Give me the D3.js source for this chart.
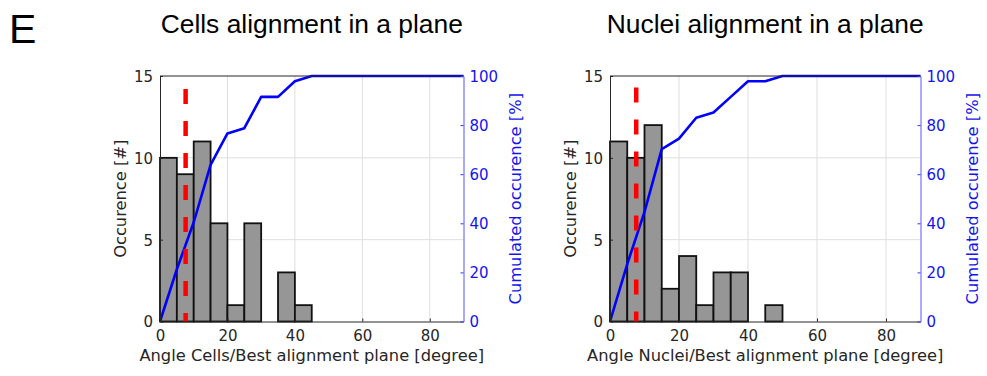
<!DOCTYPE html>
<html>
<head>
<meta charset="utf-8">
<script src="https://cdn.jsdelivr.net/npm/d3@7"></script>
<style>
  body { margin: 0; background: #fff; }
  svg { display: block; }
  .tick text { font-family: "DejaVu Sans", sans-serif; font-size: 15px; }
</style>
</head>
<body>
<div id="chart"></div>
<script>
// histogram bins of 5 degrees from 0 to 90
const binEdges = d3.range(0, 95, 5);
const cellsCounts = [10, 9, 11, 6, 1, 6, 0, 3, 1, 0, 0, 0, 0, 0, 0, 0, 0, 0];
const nucleiCounts = [11, 10, 12, 2, 4, 1, 3, 3, 0, 1, 0, 0, 0, 0, 0, 0, 0, 0];
const cellsMedian = 7.6;
const nucleiMedian = 7.6;
const cellsMedianTop = 14.2;
const nucleiMedianTop = 14.3;
const xTicks = [0, 20, 40, 60, 80];
const yLeftTicks = [0, 5, 10, 15];
const yRightTicks = [0, 20, 40, 60, 80, 100];

const panels = [
  { title: 'Cells alignment in a plane', xlabel: 'Angle Cells/Best alignment plane [degree]',
    counts: cellsCounts, median: cellsMedian, medianTop: cellsMedianTop, left: 160, right: 463.5 },
  { title: 'Nuclei alignment in a plane', xlabel: 'Angle Nuclei/Best alignment plane [degree]',
    counts: nucleiCounts, median: nucleiMedian, medianTop: nucleiMedianTop, left: 610, right: 920.5 }
];

const width = 987;
const height = 376;
const plotTop = 76;
const plotBottom = 321.5;
const axisColor = '#262626';
const blue = '#0000ff';
const labelSize = 16.3;

const svg = d3.select('#chart').append('svg')
    .attr('width', width)
    .attr('height', height);

svg.append('text')
    .attr('x', 9)
    .attr('y', 43)
    .attr('font-family', '"Liberation Sans", Arial, sans-serif')
    .attr('font-size', 41)
    .text('E');

panels.forEach(drawPanel);

function drawPanel(p) {
  const x = d3.scaleLinear().domain([0, 90]).range([p.left, p.right]);
  const y = d3.scaleLinear().domain([0, 15]).range([plotBottom, plotTop]);
  const y2 = d3.scaleLinear().domain([0, 100]).range([plotBottom, plotTop]);

  const g = svg.append('g');

  // title
  g.append('text')
      .attr('x', (p.left + p.right) / 2)
      .attr('y', 33)
      .attr('text-anchor', 'middle')
      .attr('font-family', '"Liberation Sans", Arial, sans-serif')
      .attr('font-size', 26.4)
      .attr('fill', '#000')
      .text(p.title);

  // grid
  g.selectAll('.vgrid')
    .data(xTicks.slice(1))
    .join('line')
      .attr('class', 'vgrid')
      .attr('x1', d => x(d)).attr('x2', d => x(d))
      .attr('y1', plotTop).attr('y2', plotBottom)
      .attr('stroke', '#dedede')
      .attr('stroke-width', 1);

  g.selectAll('.hgrid')
    .data(yLeftTicks.slice(1, -1))
    .join('line')
      .attr('class', 'hgrid')
      .attr('x1', p.left).attr('x2', p.right)
      .attr('y1', d => y(d)).attr('y2', d => y(d))
      .attr('stroke', '#dedede')
      .attr('stroke-width', 1);

  // bars
  const bins = p.counts.map((c, i) => ({ x0: binEdges[i], x1: binEdges[i + 1], count: c }))
    .filter(d => d.count > 0);

  g.selectAll('.bar')
    .data(bins)
    .join('rect')
      .attr('class', 'bar')
      .attr('x', d => x(d.x0))
      .attr('y', d => y(d.count))
      .attr('width', d => x(d.x1) - x(d.x0))
      .attr('height', d => y(0) - y(d.count))
      .attr('fill', '#969696')
      .attr('stroke', '#111')
      .attr('stroke-width', 1.8);

  // cumulated occurence in percent
  const total = d3.sum(p.counts);
  const cum = d3.cumsum(p.counts);
  const cumPoints = binEdges.map((e, i) => [e, i === 0 ? 0 : cum[i - 1] / total * 100]);

  g.append('path')
      .datum(cumPoints)
      .attr('fill', 'none')
      .attr('stroke', blue)
      .attr('stroke-width', 2.6)
      .attr('stroke-linejoin', 'round')
      .attr('d', d3.line().x(d => x(d[0])).y(d => y2(d[1])));

  // median line
  g.append('line')
      .attr('x1', x(p.median)).attr('x2', x(p.median))
      .attr('y1', y(p.medianTop)).attr('y2', y(0))
      .attr('stroke', '#ff0000')
      .attr('stroke-width', 4.5)
      .attr('stroke-dasharray', '15,17');

  // box top
  g.append('line')
      .attr('x1', p.left).attr('x2', p.right)
      .attr('y1', plotTop).attr('y2', plotTop)
      .attr('stroke', axisColor)
      .attr('stroke-width', 1);

  // axes
  const xAxis = g.append('g')
      .attr('transform', `translate(0,${plotBottom})`)
      .call(d3.axisBottom(x).tickValues(xTicks).tickSizeInner(-3).tickSizeOuter(0).tickPadding(9));
  xAxis.select('.domain').attr('stroke', axisColor);
  xAxis.selectAll('.tick line').attr('stroke', axisColor);
  xAxis.selectAll('.tick text').attr('fill', axisColor);

  const yAxis = g.append('g')
      .attr('transform', `translate(${p.left},0)`)
      .call(d3.axisLeft(y).tickValues(yLeftTicks).tickSizeInner(-3).tickSizeOuter(0).tickPadding(7));
  yAxis.select('.domain').attr('stroke', axisColor);
  yAxis.selectAll('.tick line').attr('stroke', axisColor);
  yAxis.selectAll('.tick text').attr('fill', axisColor).attr('dy', '0.36em');

  const yAxis2 = g.append('g')
      .attr('transform', `translate(${p.right},0)`)
      .call(d3.axisRight(y2).tickValues(yRightTicks).tickSizeInner(-3).tickSizeOuter(0).tickPadding(6));
  yAxis2.select('.domain').attr('stroke', '#5555ff');
  yAxis2.selectAll('.tick line').attr('stroke', '#3333ff');
  yAxis2.selectAll('.tick text').attr('fill', '#1414f0').attr('dy', '0.36em');

  // axis labels
  g.append('text')
      .attr('x', (p.left + p.right) / 2)
      .attr('y', 361)
      .attr('text-anchor', 'middle')
      .attr('font-family', '"DejaVu Sans", sans-serif')
      .attr('font-size', labelSize)
      .attr('fill', axisColor)
      .text(p.xlabel);

  g.append('text')
      .attr('transform', `translate(${p.left - 39.5},${(plotTop + plotBottom) / 2}) rotate(-90)`)
      .attr('text-anchor', 'middle')
      .attr('dy', '0.35em')
      .attr('font-family', '"DejaVu Sans", sans-serif')
      .attr('font-size', labelSize)
      .attr('fill', axisColor)
      .text('Occurence [#]');

  g.append('text')
      .attr('transform', `translate(${p.right + 52},${(plotTop + plotBottom) / 2}) rotate(-90)`)
      .attr('text-anchor', 'middle')
      .attr('dy', '0.35em')
      .attr('font-family', '"DejaVu Sans", sans-serif')
      .attr('font-size', labelSize)
      .attr('fill', '#1414f0')
      .text('Cumulated occurence [%]');
}
</script>
</body>
</html>
